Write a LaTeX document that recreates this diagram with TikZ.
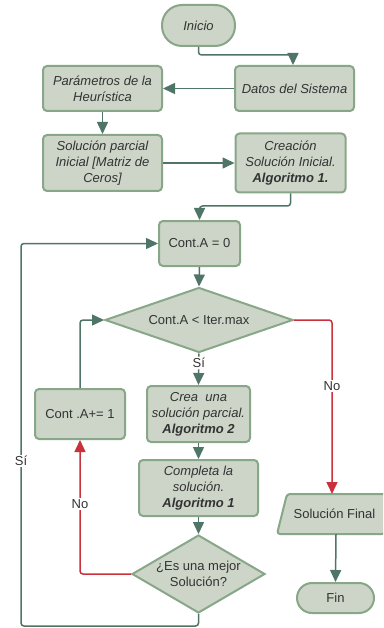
\documentclass[tikz,border=0pt]{standalone}
\usepackage{fontspec}
\setmainfont{Liberation Sans}
\usetikzlibrary{shapes.geometric,arrows.meta,calc}
\definecolor{boxfill}{HTML}{CCD5C8}
\definecolor{boxline}{HTML}{88A688}
\definecolor{arrcol}{HTML}{4E7565}
\definecolor{redcol}{HTML}{C9313D}
\definecolor{txtcol}{HTML}{333333}
\tikzset{
  base/.style={draw=boxline, fill=boxfill, line width=2pt, text=txtcol, align=center, inner sep=0pt, font=\fontsize{13}{16}\selectfont},
  procbox/.style={base, rectangle, rounded corners=4pt},
  termbox/.style={base, rectangle, rounded corners=15pt},
  decbox/.style={base, diamond},
  arr/.style={draw=arrcol, line width=1.5pt, -{Triangle[length=12pt,width=11pt]}, rounded corners=3pt},
  redarr/.style={draw=redcol, line width=1.5pt, -{Triangle[length=12pt,width=11pt]}, rounded corners=3pt},
  lbl/.style={fill=white, text=txtcol, inner sep=1.5pt, font=\fontsize{13}{16}\selectfont}
}
\begin{document}
\begin{tikzpicture}[x=1pt,y=-1pt]
\useasboundingbox (0,0) rectangle (383,628);
\begin{scope}
\clip (0,0) rectangle (383,628);
% nodes
\node[termbox, rounded corners=20pt, minimum width=73pt, minimum height=41pt] (inicio) at (198.5,25.5) {\itshape Inicio};
\node[procbox, minimum width=119pt, minimum height=45pt] (datos) at (294.5,88.5) {\itshape Datos del Sistema};
\node[procbox, minimum width=119pt, minimum height=45pt] (param) at (102.5,88.5) {\itshape Parámetros de la\\\itshape Heurística};
\node[procbox, minimum width=119pt, minimum height=56pt] (solp) at (102.5,163) {\itshape Solución parcial\\\itshape Inicial [Matriz de\\\itshape Ceros]};
\node[procbox, minimum width=110pt, minimum height=59pt] (crea) at (290.5,163) {\itshape Creación\\\itshape Solución Inicial.\\\bfseries\itshape Algoritmo 1.};
\node[procbox, minimum width=81pt, minimum height=45pt] (cont0) at (199.5,243.5) {Cont.A = 0};
\node[decbox, minimum width=188pt, minimum height=65pt, shape aspect=2.89] (dia1) at (199,320) {Cont.A < Iter.max};
\node[procbox, minimum width=90pt, minimum height=50pt] (incr) at (80,414) {Cont .A+= 1};
\node[procbox, minimum width=103pt, minimum height=56pt] (crea2) at (198.5,414) {\itshape Crea~~una\\\itshape solución parcial.\\\bfseries\itshape Algoritmo 2};
\node[procbox, minimum width=119pt, minimum height=56pt] (comp) at (198.5,488) {\itshape Completa la\\\itshape solución.\\\bfseries\itshape Algoritmo 1};
\node[decbox, minimum width=133pt, minimum height=78pt, shape aspect=1.7] (dia2) at (198.5,574) {¿Es una mejor\\Solución?};
\draw[draw=boxline, fill=boxfill, line width=2pt, rounded corners=3pt] (277,534) -- (287,494) -- (395,494) -- (385,534) -- cycle;
\node[text=txtcol, inner sep=0pt, minimum height=40pt, font=\fontsize{13}{16}\selectfont] (solf) at (334.5,514) {Solución Final};
\node[termbox, minimum width=77pt, minimum height=30pt] (fin) at (335.5,598) {Fin};
% connectors
\draw[arr] (inicio.south) |- ([xshift=-1.5pt,yshift=10pt]datos.north) -- ([xshift=-1.5pt]datos.north);
\draw[arr] (datos.west) -- (param.east);
\draw[arr] (param.south) -- (solp.north);
\draw[arr] (solp.east) -- (crea.west);
\draw[arr] (crea.south) |- ([yshift=14pt]cont0.north) -- (cont0.north);
\draw[arr] (cont0.south) -- (dia1.north);
\draw[arr] (dia1.south) -- node[lbl, pos=0.3] {Sí} (crea2.north);
\draw[arr] (incr.north) |- (dia1.west);
\coordinate (rn) at (332,494);
\draw[redarr] (dia1.east) -| (rn);
\node[lbl] (no1) at (332,386) {No};
\draw[arr] (crea2.south) -- (comp.north);
\draw[arr] (comp.south) -- (dia2.north);
\draw[redarr] (dia2.west) -| (incr.south);
\node[lbl] (no2) at (80,504) {No};
\coordinate (lb) at (21,626);
\draw[arr] (dia2.south) |- (lb) |- (cont0.west);
\node[lbl] (si2) at (21,461) {Sí};
\draw[arr] ([xshift=1.5pt]solf.south) -- ([xshift=0pt]fin.north);
\end{scope}
\end{tikzpicture}
\end{document}
